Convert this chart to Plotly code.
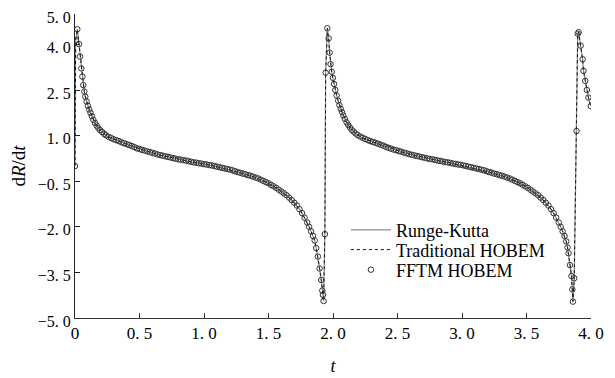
import plotly.graph_objects as go

# FFTM HOBEM / Runge-Kutta / Traditional HOBEM share the same traced curve
t_vals = [
    0.000, 0.005, 0.018, 0.031, 0.039, 0.049, 0.057, 0.064, 0.072, 0.080,
    0.090, 0.100, 0.110, 0.120, 0.130, 0.142, 0.155, 0.168, 0.181, 0.195,
    0.210, 0.225, 0.240, 0.26, 0.28, 0.30, 0.32, 0.34, 0.36, 0.38,
    0.40, 0.42, 0.44, 0.46, 0.48, 0.50, 0.52, 0.54, 0.56, 0.58,
    0.60, 0.62, 0.64, 0.66, 0.68, 0.70, 0.72, 0.74, 0.76, 0.78,
    0.80, 0.82, 0.84, 0.86, 0.88, 0.90, 0.92, 0.94, 0.96, 0.98,
    1.00, 1.02, 1.04, 1.06, 1.08, 1.10, 1.12, 1.14, 1.16, 1.18,
    1.20, 1.22, 1.24, 1.26, 1.28, 1.30, 1.32, 1.34, 1.36, 1.38,
    1.40, 1.42, 1.44, 1.46, 1.48, 1.50, 1.52, 1.54, 1.56, 1.58,
    1.60, 1.62, 1.64, 1.66, 1.68, 1.70, 1.72, 1.74, 1.76, 1.78,
    1.80, 1.815, 1.83, 1.845, 1.858, 1.870, 1.883, 1.896, 1.909, 1.917,
    1.922, 1.927, 1.937, 1.943,
    1.956, 1.966, 1.974, 1.981, 1.990, 1.999, 2.008, 2.018, 2.028, 2.040,
    2.050, 2.060, 2.070, 2.080, 2.092, 2.105, 2.118, 2.131, 2.145, 2.160,
    2.175, 2.190, 2.21, 2.23, 2.25, 2.27, 2.29, 2.31, 2.33, 2.35,
    2.37, 2.39, 2.41, 2.43, 2.45, 2.47, 2.49, 2.51, 2.53, 2.55,
    2.57, 2.59, 2.61, 2.63, 2.65, 2.67, 2.69, 2.71, 2.73, 2.75,
    2.77, 2.79, 2.81, 2.83, 2.85, 2.87, 2.89, 2.91, 2.93, 2.95,
    2.97, 2.99, 3.01, 3.03, 3.05, 3.07, 3.09, 3.11, 3.13, 3.15,
    3.17, 3.19, 3.21, 3.23, 3.25, 3.27, 3.29, 3.31, 3.33, 3.35,
    3.37, 3.39, 3.41, 3.43, 3.45, 3.47, 3.49, 3.51, 3.53, 3.55,
    3.57, 3.59, 3.61, 3.63, 3.65, 3.67, 3.69, 3.71, 3.73, 3.75,
    3.765, 3.78, 3.795, 3.808, 3.818, 3.826, 3.837, 3.849, 3.855, 3.860,
    3.870, 3.888, 3.897, 3.904, 3.920, 3.935, 3.942, 3.955, 3.968, 3.980,
    3.998,
]
dRdt_vals = [
    0.00, 4.14, 4.50, 4.01, 3.60, 3.21, 2.94, 2.66, 2.45, 2.28,
    2.12, 1.98, 1.86, 1.75, 1.64, 1.52, 1.42, 1.33, 1.25, 1.18,
    1.12, 1.06, 1.01, 0.96, 0.92, 0.88, 0.85, 0.82, 0.78, 0.75,
    0.72, 0.69, 0.66, 0.62, 0.58, 0.56, 0.53, 0.51, 0.48, 0.46,
    0.43, 0.41, 0.38, 0.36, 0.34, 0.32, 0.30, 0.28, 0.26, 0.24,
    0.22, 0.21, 0.19, 0.18, 0.16, 0.14, 0.12, 0.11, 0.09, 0.08,
    0.06, 0.05, 0.03, 0.02, 0.00, -0.02, -0.04, -0.06, -0.08, -0.10,
    -0.12, -0.14, -0.17, -0.20, -0.22, -0.25, -0.27, -0.30, -0.32, -0.35,
    -0.38, -0.41, -0.45, -0.49, -0.53, -0.57, -0.62, -0.67, -0.72, -0.78,
    -0.84, -0.90, -0.96, -1.04, -1.12, -1.21, -1.30, -1.42, -1.55, -1.70,
    -1.86, -2.00, -2.15, -2.30, -2.45, -2.70, -2.98, -3.37, -3.75, -4.10,
    -4.24, -4.44, -2.24, 3.07,
    4.53, 4.20, 3.73, 3.35, 3.10, 2.90, 2.70, 2.50, 2.32, 2.15,
    2.00, 1.88, 1.77, 1.66, 1.55, 1.44, 1.35, 1.27, 1.19, 1.13,
    1.07, 1.02, 0.97, 0.93, 0.89, 0.85, 0.82, 0.79, 0.76, 0.73,
    0.70, 0.67, 0.63, 0.60, 0.57, 0.54, 0.52, 0.49, 0.47, 0.44,
    0.42, 0.39, 0.37, 0.35, 0.33, 0.31, 0.29, 0.27, 0.25, 0.23,
    0.22, 0.20, 0.18, 0.17, 0.15, 0.13, 0.12, 0.10, 0.08, 0.07,
    0.05, 0.04, 0.02, 0.00, -0.02, -0.04, -0.06, -0.08, -0.10, -0.12,
    -0.14, -0.17, -0.20, -0.22, -0.25, -0.27, -0.30, -0.32, -0.35, -0.38,
    -0.41, -0.45, -0.49, -0.53, -0.57, -0.62, -0.67, -0.72, -0.78, -0.84,
    -0.90, -0.96, -1.04, -1.12, -1.21, -1.30, -1.42, -1.55, -1.70, -1.86,
    -2.00, -2.15, -2.30, -2.48, -2.68, -2.87, -3.26, -3.62, -4.06, -4.46,
    -3.69, 1.15, 4.35, 4.40, 3.96, 3.51, 3.13, 2.80, 2.50, 2.25,
    1.97,
]

x_tickvals = [0, 0.5, 1.0, 1.5, 2.0, 2.5, 3.0, 3.5, 4.0]
x_ticktext = ["0", "0. 5", "1. 0", "1. 5", "2. 0", "2. 5", "3. 0", "3. 5", "4. 0"]
y_tickvals = [5.0, 4.0, 2.5, 1.0, -0.5, -2.0, -3.5, -5.0]
y_ticktext = ["5. 0", "4. 0", "2. 5", "1. 0", "\u22120. 5", "\u22122. 0", "\u22123. 5", "\u22125. 0"]

FONT = "Liberation Serif, Times New Roman, serif"

fig = go.Figure()
fig.add_trace(go.Scatter(
    x=t_vals, y=dRdt_vals, mode="lines", name="Runge-Kutta",
    line=dict(color="#8c8c8c", width=1.2), legend="legend",
))
fig.add_trace(go.Scatter(
    x=t_vals, y=dRdt_vals, mode="lines", name="Traditional HOBEM",
    line=dict(color="#111111", width=1, dash="dot"), legend="legend2",
))
fig.add_trace(go.Scatter(
    x=t_vals, y=dRdt_vals, mode="markers", name="FFTM HOBEM",
    marker=dict(symbol="circle-open", size=5.5, color="#333333",
                line=dict(width=1, color="#333333")), legend="legend3",
))

leg_common = dict(x=0.525, xanchor="left", yanchor="middle",
                  bgcolor="rgba(0,0,0,0)", font=dict(family=FONT, size=18),
                  itemwidth=40)

# page body has an 8px default margin, so the figure is sized 8px smaller
fig.update_layout(
    width=607, height=370,
    margin=dict(l=67, r=24, t=6, b=60),
    paper_bgcolor="white", plot_bgcolor="white",
    font=dict(family=FONT, size=17, color="black"),
    showlegend=True,
    legend=dict(y=0.289, **leg_common),
    legend2=dict(y=0.224, **leg_common),
    legend3=dict(y=0.158, **leg_common),
    xaxis=dict(range=[0, 4.0], tickvals=x_tickvals, ticktext=x_ticktext,
               ticks="inside", ticklen=5, tickcolor="#333", showline=True,
               linecolor="#333", linewidth=1, showgrid=False, zeroline=False,
               automargin=False, ticklabeloverflow="allow",
               title=dict(text="<i>t</i>", standoff=16,
                          font=dict(family=FONT, size=18))),
    yaxis=dict(range=[-5.0, 5.0], tickvals=y_tickvals, ticktext=y_ticktext,
               ticks="inside", ticklen=5, tickcolor="#222", showline=True,
               linecolor="#222", linewidth=1, showgrid=False, zeroline=False,
               automargin=False, ticklabeloverflow="allow",
               tickfont=dict(family=FONT, size=16), ticklabelshift=3,
               title=dict(text="d<i>R</i>/d<i>t</i>", standoff=14,
                          font=dict(family=FONT, size=19))),
)

fig.write_html("out.html")
